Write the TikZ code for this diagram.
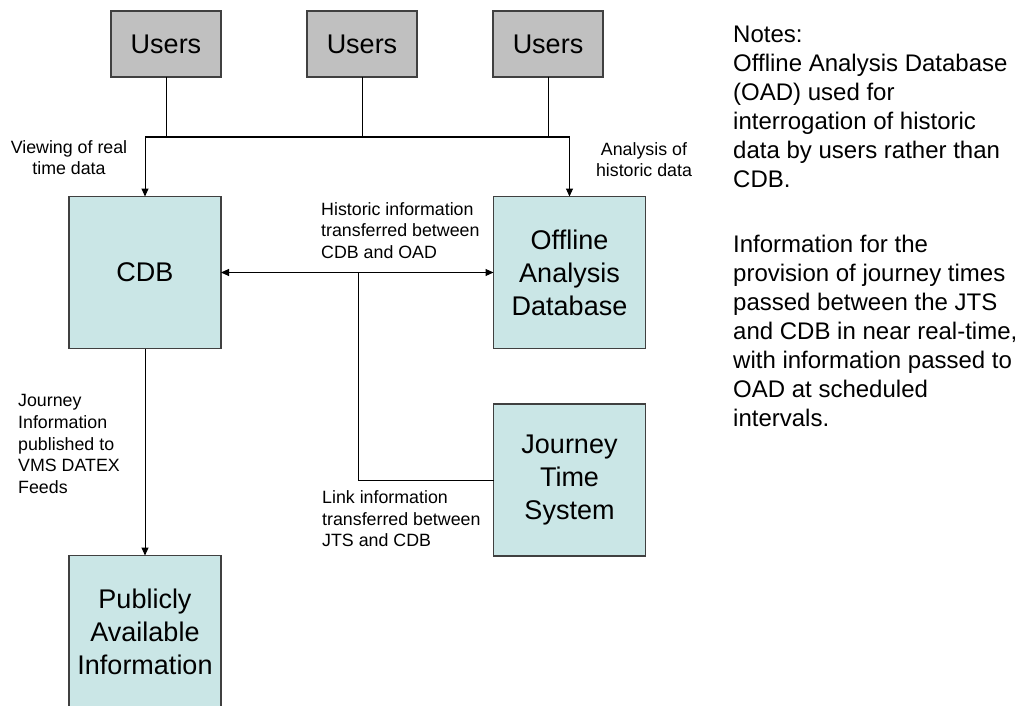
\documentclass[tikz,border=0pt]{standalone}
\usepackage{fontspec}
\setmainfont{Liberation Sans}
\usetikzlibrary{arrows.meta}

\definecolor{boxcyan}{RGB}{202,230,230}
\definecolor{boxgrey}{RGB}{192,192,192}
\definecolor{edgegrey}{RGB}{64,64,64}

\begin{document}
\begin{tikzpicture}[x=1pt,y=-1pt,
  box/.style={draw=edgegrey, line width=1.2pt, fill=boxcyan, inner sep=0pt,
    outer sep=0pt, minimum width=152pt, minimum height=152pt, align=center,
    font=\fontsize{27}{33}\selectfont},
  userbox/.style={box, fill=boxgrey, minimum width=110pt, minimum height=66pt},
  link/.style={line width=1pt, draw=black},
  tip/.tip={Triangle[length=8pt,width=7pt]},
  arr/.style={link, -tip},
  lbl/.style={inner sep=0pt, font=\fontsize{17.8}{21.7}\selectfont},
  note/.style={inner sep=0pt, anchor=north west, align=left,
    font=\fontsize{24}{29}\selectfont}]

\useasboundingbox (0,0) rectangle (1022,706);

% user terminals
\node[userbox] (u1) at (166,44) {Users};
\node[userbox] (u2) at (362,44) {Users};
\node[userbox] (u3) at (548,44) {Users};

% systems
\node[box] (cdb) at (145,272.5) {CDB};
\node[box] (oad) at (569.5,272.5) {Offline\\Analysis\\Database};
\node[box] (jts) at (569.5,480) {Journey\\Time\\System};
\node[box] (pub) at (145,631.5) {Publicly\\Available\\Information};

% shared user bus
\coordinate (busL) at (145,137);
\coordinate (busR) at (569.5,137);
\draw[link] (busL) -- (busR);
\draw[link] (u1.south) -- (u1.south |- busL);
\draw[link] (u2.south) -- (u2.south |- busL);
\draw[link] (u3.south) -- (u3.south |- busL);
\draw[arr] (busL) -- (cdb.north);
\draw[arr] (busR) -- (oad.north);

% data exchange between the databases and the JTS
\draw[link, tip-tip] (cdb.east) -- (oad.west);
\coordinate (hj) at (358,272.5);
\draw[link] (jts.west) -| (hj);

% publication feed
\draw[arr] (cdb.south) -- (pub.north);

% connector labels
\node[lbl, anchor=north, align=center] (lview) at (69,140.2) {Viewing of real\\time data};
\node[lbl, anchor=north, align=center] (lanal) at (644,142.2) {Analysis of\\historic data};
\node[lbl, anchor=north west, align=left] (lhist) at (321,202.2) {Historic information\\transferred between\\CDB and OAD};
\node[lbl, anchor=north west, align=left] (llink) at (322,490.2) {Link information\\transferred between\\JTS and CDB};
\node[lbl, anchor=north west, align=left] (ljour) at (18,394.2) {Journey\\Information\\published to\\VMS DATEX\\Feeds};

% notes
\node[note] (n1) at (733,25.5) {Notes:\\Offline Analysis Database\\(OAD) used for\\interrogation of historic\\data by users rather than\\CDB.};
\node[note] (n2) at (733,234.5) {Information for the\\provision of journey times\\passed between the JTS\\and CDB in near real-time,\\with information passed to\\OAD at scheduled\\intervals.};
\end{tikzpicture}
\end{document}
